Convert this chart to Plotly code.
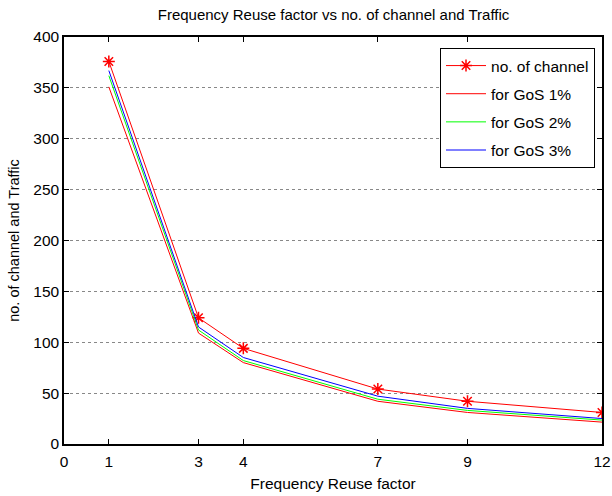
import plotly.graph_objects as go

reuse = [1, 3, 4, 7, 9, 12]
channels = [376, 124, 94, 54, 42, 31]
gos1 = [351, 109, 80, 42, 31, 21.5]
gos2 = [362, 112, 82, 44, 33, 23.5]
gos3 = [367, 115, 85, 47, 35, 25]
xticks = [0, 1, 3, 4, 7, 9, 12]

FONT = "Liberation Sans, Arial, sans-serif"

fig = go.Figure()
fig.add_trace(go.Scatter(x=reuse, y=channels, mode="lines+markers", name="no. of channel",
                         legendgroup="a",
                         line=dict(color="#ff0000", width=1),
                         marker=dict(symbol="asterisk-open", size=10, color="#ff0000",
                                     line=dict(color="#ff0000", width=1.5))))
fig.add_trace(go.Scatter(x=reuse, y=gos1, mode="lines", name="for GoS 1%", legendgroup="b",
                         line=dict(color="#ff0000", width=1)))
fig.add_trace(go.Scatter(x=reuse, y=gos2, mode="lines", name="for GoS 2%", legendgroup="c",
                         line=dict(color="#00ff00", width=1)))
fig.add_trace(go.Scatter(x=reuse, y=gos3, mode="lines", name="for GoS 3%", legendgroup="d",
                         line=dict(color="#0000ff", width=1)))

axis_common = dict(showline=True, linecolor="black", linewidth=1.5, mirror="ticks",
                   ticks="inside", ticklen=5, tickcolor="black", tickwidth=1,
                   zeroline=False, automargin=False,
                   tickfont=dict(family=FONT, size=15.5, color="black"))

fig.update_layout(
    width=612, height=496,
    margin=dict(l=64, r=10, t=37, b=52),
    paper_bgcolor="white", plot_bgcolor="white",
    font=dict(family=FONT, color="black"),
    title=dict(text="Frequency Reuse factor vs no. of channel and Traffic",
               x=0.545, xanchor="center", y=0.97, yanchor="middle",
               font=dict(family=FONT, size=15, color="black")),
    xaxis=dict(range=[0, 12], tickmode="array", tickvals=xticks,
               showgrid=False, ticklabelstandoff=3,
               title=dict(text="Frequency Reuse factor", standoff=9,
                          font=dict(family=FONT, size=15.5)),
               **axis_common),
    yaxis=dict(range=[0, 400], dtick=50, tick0=0,
               showgrid=True, gridcolor="#888888", griddash="dot", gridwidth=1,
               title=dict(text="no. of channel and Traffic", standoff=10,
                          font=dict(family=FONT, size=14.5)),
               **axis_common),
    legend=dict(x=0.987, xanchor="right", y=0.973, yanchor="top",
                bgcolor="white", bordercolor="black", borderwidth=1,
                font=dict(family=FONT, size=15.5, color="black"),
                tracegroupgap=5, itemwidth=40),
    showlegend=True,
)

fig.write_html("out.html")
